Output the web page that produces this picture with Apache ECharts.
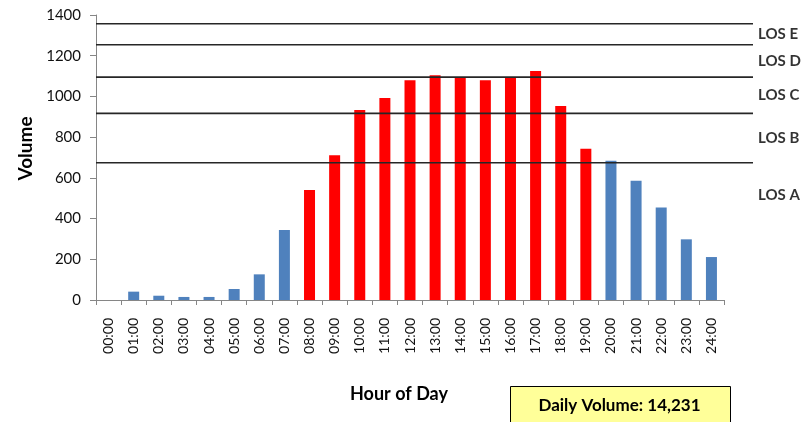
<!DOCTYPE html>
<html>
<head>
<meta charset="utf-8">
<script src="https://cdn.jsdelivr.net/npm/echarts@6/dist/echarts.min.js"></script>
<style>
  html, body { margin: 0; padding: 0; background: #fff; }
  #chart { width: 811px; height: 422px; }
</style>
</head>
<body>
<div id="chart"></div>
<script>
// ---- Data ----
const hours = ['00:00','01:00','02:00','03:00','04:00','05:00','06:00','07:00','08:00','09:00','10:00','11:00','12:00',
               '13:00','14:00','15:00','16:00','17:00','18:00','19:00','20:00','21:00','22:00','23:00','24:00'];
const volumes = [0, 41, 21, 15, 15, 54, 126, 344, 540, 711, 933, 992, 1079,
                 1104, 1095, 1079, 1095, 1125, 953, 743, 684, 586, 455, 298, 211];
const peakHours = ['08:00','09:00','10:00','11:00','12:00','13:00','14:00','15:00','16:00','17:00','18:00','19:00'];
const losThresholds = [674, 917, 1095, 1254, 1357];
const losLabels = ['LOS A', 'LOS B', 'LOS C', 'LOS D', 'LOS E'];
const losLabelValues = [516, 795, 1006, 1175, 1305];
const yTicks = [0, 200, 400, 600, 800, 1000, 1200, 1400];
const dailyVolumeText = 'Daily Volume: 14,231';

// ---- Chart ----
const FONT = 'Lato';
const chart = echarts.init(document.getElementById('chart'), null, { renderer: 'canvas' });

const barData = volumes.map((v, i) => ({
  value: v,
  itemStyle: { color: peakHours.includes(hours[i]) ? '#FF0000' : '#4F81BD' }
}));

const lineSeries = losThresholds.map(v => ({
  type: 'line',
  xAxisIndex: 1, yAxisIndex: 1,
  data: [[0, v], [1, v]],
  symbol: 'none',
  lineStyle: { color: '#262626', width: 1.6 },
  silent: true,
  z: 3
}));

const option = {
  animation: false,
  backgroundColor: '#fff',
  grid: [
    { left: 96, right: 87, top: 15, bottom: 122 },
    { left: 96, right: 58, top: 15, bottom: 122 }
  ],
  xAxis: [
    {
      type: 'category', gridIndex: 0, data: hours,
      boundaryGap: true,
      axisLine: { lineStyle: { color: '#868686', width: 1 } },
      axisTick: { show: true, length: 5, alignWithLabel: false, lineStyle: { color: '#868686' } },
      axisLabel: { rotate: 90, interval: 0, margin: 18, fontFamily: FONT, fontSize: 14, color: '#111' },
      name: 'Hour of Day', nameLocation: 'middle', nameGap: 85,
      nameTextStyle: { fontFamily: FONT, fontSize: 18, fontWeight: 'bold', color: '#000', padding: [0, 22, 0, 0] }
    },
    { type: 'value', gridIndex: 1, min: 0, max: 1, show: false }
  ],
  yAxis: [
    {
      type: 'value', gridIndex: 0, min: yTicks[0], max: yTicks[yTicks.length - 1], interval: 200,
      axisLine: { show: true, lineStyle: { color: '#868686' } },
      axisTick: { show: true, length: 6, lineStyle: { color: '#868686' } },
      splitLine: { show: false },
      axisLabel: { margin: 15, fontFamily: FONT, fontSize: 15, color: '#111', formatter: v => String(v) },
      name: 'Volume', nameLocation: 'middle', nameGap: 60, nameRotate: 90,
      nameTextStyle: { fontFamily: FONT, fontSize: 19, fontWeight: 'bold', color: '#000', padding: [0, 0, 0, 18] }
    },
    { type: 'value', gridIndex: 1, min: yTicks[0], max: yTicks[yTicks.length - 1], show: false }
  ],
  series: [
    {
      type: 'bar', xAxisIndex: 0, yAxisIndex: 0,
      data: barData, barWidth: 11,
      z: 2
    },
    ...lineSeries,
    {
      type: 'scatter', xAxisIndex: 1, yAxisIndex: 1,
      data: losLabelValues.map((v, i) => ({ value: [1, v], name: losLabels[i] })),
      symbolSize: 0, silent: true,
      label: {
        show: true, position: 'right', distance: 5,
        formatter: p => p.name,
        fontFamily: FONT, fontSize: 15, fontWeight: 'bold', color: '#000'
      }
    }
  ],
  graphic: [
    {
      type: 'group', left: 510, top: 386,
      children: [
        { type: 'rect', shape: { x: 0, y: 0, width: 220, height: 36 },
          style: { fill: '#FFFF99', stroke: '#000', lineWidth: 1 } },
        { type: 'text', x: 109, y: 19,
          style: { text: dailyVolumeText, fontFamily: FONT, fontSize: 17, fontWeight: 'bold',
                   fill: '#000', textAlign: 'center', textVerticalAlign: 'middle' } }
      ]
    }
  ]
};
chart.setOption(option);
</script>
</body>
</html>
